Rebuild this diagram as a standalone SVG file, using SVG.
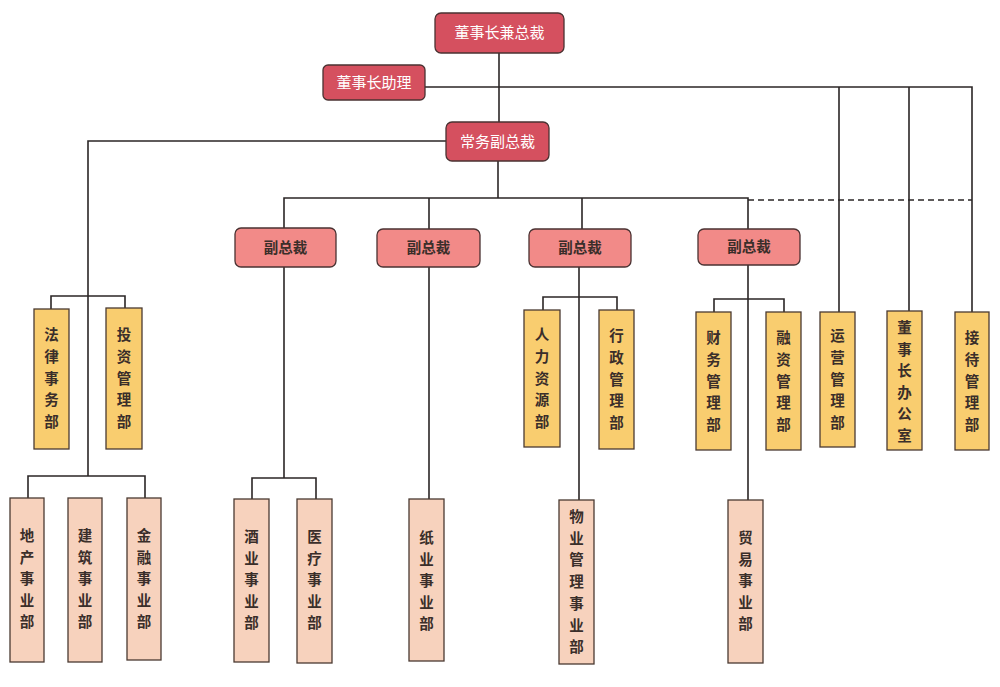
<svg xmlns="http://www.w3.org/2000/svg" width="1000" height="687" viewBox="0 0 1000 687">
<style>
.ln{fill:none;stroke:#2b2626;stroke-width:1.6}
.dash{fill:none;stroke:#2b2626;stroke-width:1.6;stroke-dasharray:6 4}
.top{fill:#d5505f;stroke:#4a3232;stroke-width:1.3}
.vp{fill:#f28a88;stroke:#4a3232;stroke-width:1.3}
.yel{fill:#f9cd6f;stroke:#4a3a32;stroke-width:1.3}
.pch{fill:#f7d2bd;stroke:#4a3a32;stroke-width:1.3}
text{font-family:"Noto Sans CJK SC","Noto Sans CJK JP",sans-serif;font-weight:bold;font-size:14.5px;text-anchor:middle}
.w{fill:#ffffff;font-weight:normal;font-size:15px}
.d{fill:#3a2e2a}
</style>
<rect width="1000" height="687" fill="#ffffff"/>
<g id="connectors">
<path class="ln" d="M499 53V122"/>
<path class="ln" d="M425 87H972V312"/>
<path class="ln" d="M839 87V312M909 87V311"/>
<path class="ln" d="M446 141H88V476"/>
<path class="ln" d="M498 161V198"/>
<path class="ln" d="M284 228V198H748V229"/>
<path class="dash" d="M748 200H972"/>
<path class="ln" d="M429 198V229M582 198V229"/>
<path class="ln" d="M284 267V478M429 267V499M579 267V500M748 265V500"/>
<path class="ln" d="M51 309V296H125V308"/>
<path class="ln" d="M543 310V297H617V310"/>
<path class="ln" d="M714 312V299H784V312"/>
<path class="ln" d="M28 498V476H145V498"/>
<path class="ln" d="M252 499V478H316V499"/>
</g>
<g id="n_chairman"><rect class="top" x="435" y="13" width="129" height="40" rx="6"/><text class="w" x="499.5" y="38">董事长兼总裁</text></g>
<g id="n_assistant"><rect class="top" x="323" y="65" width="102" height="35" rx="5"/><text class="w" x="374" y="88">董事长助理</text></g>
<g id="n_evp"><rect class="top" x="446" y="122" width="103" height="39" rx="6"/><text class="w" x="497.5" y="147">常务副总裁</text></g>
<g id="n_vp1"><rect class="vp" x="235" y="228" width="101" height="39" rx="6"/><text class="d" x="285.5" y="253">副总裁</text></g>
<g id="n_vp2"><rect class="vp" x="377" y="229" width="103" height="38" rx="6"/><text class="d" x="428.5" y="253">副总裁</text></g>
<g id="n_vp3"><rect class="vp" x="529" y="229" width="102" height="38" rx="6"/><text class="d" x="580" y="253">副总裁</text></g>
<g id="n_vp4"><rect class="vp" x="698" y="229" width="102" height="36" rx="6"/><text class="d" x="749" y="252">副总裁</text></g>
<g id="n_legal"><rect class="yel" x="34" y="309" width="35" height="140"/><text class="d" x="51.5" y="340"><tspan x="51.5">法</tspan><tspan x="51.5" dy="21.8">律</tspan><tspan x="51.5" dy="21.8">事</tspan><tspan x="51.5" dy="21.8">务</tspan><tspan x="51.5" dy="21.8">部</tspan></text></g>
<g id="n_invest"><rect class="yel" x="106" y="308" width="36" height="141"/><text class="d" x="124" y="340"><tspan x="124">投</tspan><tspan x="124" dy="21.8">资</tspan><tspan x="124" dy="21.8">管</tspan><tspan x="124" dy="21.8">理</tspan><tspan x="124" dy="21.8">部</tspan></text></g>
<g id="n_hr"><rect class="yel" x="524" y="310" width="36" height="137"/><text class="d" x="542" y="340"><tspan x="542">人</tspan><tspan x="542" dy="21.8">力</tspan><tspan x="542" dy="21.8">资</tspan><tspan x="542" dy="21.8">源</tspan><tspan x="542" dy="21.8">部</tspan></text></g>
<g id="n_admin"><rect class="yel" x="599" y="310" width="35" height="139"/><text class="d" x="616.5" y="341"><tspan x="616.5">行</tspan><tspan x="616.5" dy="21.8">政</tspan><tspan x="616.5" dy="21.8">管</tspan><tspan x="616.5" dy="21.8">理</tspan><tspan x="616.5" dy="21.8">部</tspan></text></g>
<g id="n_finance"><rect class="yel" x="696" y="312" width="35" height="138"/><text class="d" x="713.5" y="343"><tspan x="713.5">财</tspan><tspan x="713.5" dy="21.8">务</tspan><tspan x="713.5" dy="21.8">管</tspan><tspan x="713.5" dy="21.8">理</tspan><tspan x="713.5" dy="21.8">部</tspan></text></g>
<g id="n_financing"><rect class="yel" x="766" y="312" width="35" height="138"/><text class="d" x="783.5" y="343"><tspan x="783.5">融</tspan><tspan x="783.5" dy="21.8">资</tspan><tspan x="783.5" dy="21.8">管</tspan><tspan x="783.5" dy="21.8">理</tspan><tspan x="783.5" dy="21.8">部</tspan></text></g>
<g id="n_ops"><rect class="yel" x="820" y="312" width="35" height="135"/><text class="d" x="837.5" y="341"><tspan x="837.5">运</tspan><tspan x="837.5" dy="21.8">营</tspan><tspan x="837.5" dy="21.8">管</tspan><tspan x="837.5" dy="21.8">理</tspan><tspan x="837.5" dy="21.8">部</tspan></text></g>
<g id="n_office"><rect class="yel" x="887" y="311" width="35" height="139"/><text class="d" x="904.5" y="333"><tspan x="904.5">董</tspan><tspan x="904.5" dy="21.5">事</tspan><tspan x="904.5" dy="21.5">长</tspan><tspan x="904.5" dy="21.5">办</tspan><tspan x="904.5" dy="21.5">公</tspan><tspan x="904.5" dy="21.5">室</tspan></text></g>
<g id="n_reception"><rect class="yel" x="955" y="312" width="34" height="138"/><text class="d" x="972" y="343"><tspan x="972">接</tspan><tspan x="972" dy="21.8">待</tspan><tspan x="972" dy="21.8">管</tspan><tspan x="972" dy="21.8">理</tspan><tspan x="972" dy="21.8">部</tspan></text></g>
<g id="n_realestate"><rect class="pch" x="10" y="498" width="34" height="164"/><text class="d" x="27" y="541"><tspan x="27">地</tspan><tspan x="27" dy="21.5">产</tspan><tspan x="27" dy="21.5">事</tspan><tspan x="27" dy="21.5">业</tspan><tspan x="27" dy="21.5">部</tspan></text></g>
<g id="n_construction"><rect class="pch" x="68" y="498" width="34" height="164"/><text class="d" x="85" y="541"><tspan x="85">建</tspan><tspan x="85" dy="21.5">筑</tspan><tspan x="85" dy="21.5">事</tspan><tspan x="85" dy="21.5">业</tspan><tspan x="85" dy="21.5">部</tspan></text></g>
<g id="n_fin"><rect class="pch" x="127" y="498" width="34" height="162"/><text class="d" x="144" y="541"><tspan x="144">金</tspan><tspan x="144" dy="21.5">融</tspan><tspan x="144" dy="21.5">事</tspan><tspan x="144" dy="21.5">业</tspan><tspan x="144" dy="21.5">部</tspan></text></g>
<g id="n_liquor"><rect class="pch" x="234" y="499" width="35" height="163"/><text class="d" x="251.5" y="542"><tspan x="251.5">酒</tspan><tspan x="251.5" dy="21.5">业</tspan><tspan x="251.5" dy="21.5">事</tspan><tspan x="251.5" dy="21.5">业</tspan><tspan x="251.5" dy="21.5">部</tspan></text></g>
<g id="n_medical"><rect class="pch" x="297" y="499" width="35" height="164"/><text class="d" x="314.5" y="542"><tspan x="314.5">医</tspan><tspan x="314.5" dy="21.5">疗</tspan><tspan x="314.5" dy="21.5">事</tspan><tspan x="314.5" dy="21.5">业</tspan><tspan x="314.5" dy="21.5">部</tspan></text></g>
<g id="n_paper"><rect class="pch" x="409" y="499" width="35" height="162"/><text class="d" x="426.5" y="543"><tspan x="426.5">纸</tspan><tspan x="426.5" dy="21.5">业</tspan><tspan x="426.5" dy="21.5">事</tspan><tspan x="426.5" dy="21.5">业</tspan><tspan x="426.5" dy="21.5">部</tspan></text></g>
<g id="n_property"><rect class="pch" x="559" y="500" width="35" height="164"/><text class="d" x="576.5" y="522"><tspan x="576.5">物</tspan><tspan x="576.5" dy="21.7">业</tspan><tspan x="576.5" dy="21.7">管</tspan><tspan x="576.5" dy="21.7">理</tspan><tspan x="576.5" dy="21.7">事</tspan><tspan x="576.5" dy="21.7">业</tspan><tspan x="576.5" dy="21.7">部</tspan></text></g>
<g id="n_trade"><rect class="pch" x="728" y="500" width="35" height="163"/><text class="d" x="745.5" y="543"><tspan x="745.5">贸</tspan><tspan x="745.5" dy="21.5">易</tspan><tspan x="745.5" dy="21.5">事</tspan><tspan x="745.5" dy="21.5">业</tspan><tspan x="745.5" dy="21.5">部</tspan></text></g>
</svg>
